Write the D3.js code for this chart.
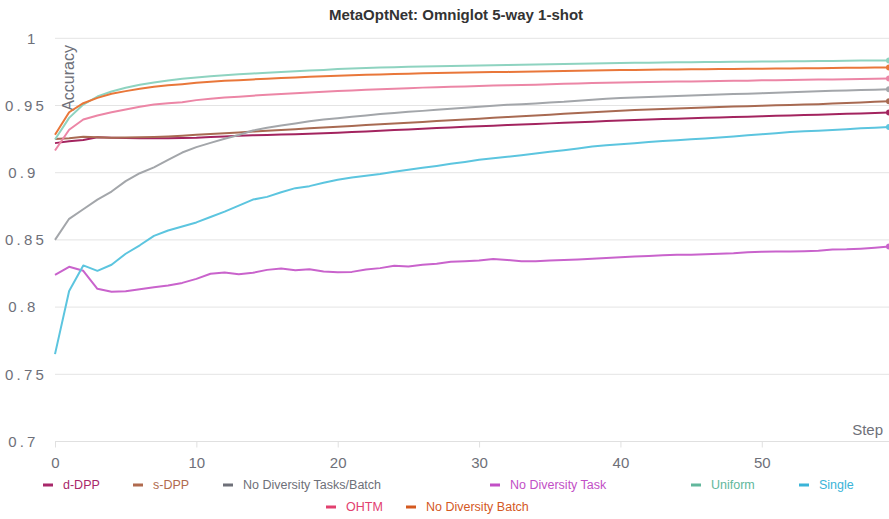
<!DOCTYPE html>
<html>
<head>
<meta charset="utf-8">
<script src="https://cdn.jsdelivr.net/npm/d3@7"></script>
<style>
  html, body { margin: 0; padding: 0; background: #fff; }
  svg { display: block; font-family: "Liberation Sans", Arial, sans-serif; }
</style>
</head>
<body>
<svg id="chart" width="889" height="519"></svg>
<script>
// ---------- data ----------
const title = "MetaOptNet: Omniglot 5-way 1-shot";
const yTicks = [0.7, 0.75, 0.8, 0.85, 0.9, 0.95, 1];
const yTickLabels = ["0.7", "0.75", "0.8", "0.85", "0.9", "0.95", "1"];
const xTicks = [0, 10, 20, 30, 40, 50];
const xTickLabels = ["0", "10", "20", "30", "40", "50"];
const seriesNames = ["d-DPP", "s-DPP", "No Diversity Tasks/Batch", "No Diversity Task", "Uniform", "Single", "OHTM", "No Diversity Batch"];

const dDPP = [0.9220,0.9234,0.9244,0.9264,0.9260,0.9258,0.9256,0.9256,0.9257,0.9258,
  0.9260,0.9265,0.9270,0.9274,0.9278,0.9281,0.9284,0.9287,0.9290,0.9293,
  0.9297,0.9302,0.9307,0.9312,0.9317,0.9322,0.9327,0.9332,0.9337,0.9341,
  0.9346,0.9350,0.9355,0.9359,0.9363,0.9367,0.9371,0.9375,0.9380,0.9384,
  0.9388,0.9392,0.9396,0.9399,0.9402,0.9405,0.9408,0.9411,0.9414,0.9417,
  0.9420,0.9423,0.9426,0.9429,0.9432,0.9435,0.9438,0.9441,0.9444,0.9448];
const sDPP = [0.9250,0.9257,0.9267,0.9264,0.9260,0.9262,0.9264,0.9266,0.9270,0.9275,
  0.9282,0.9288,0.9293,0.9300,0.9306,0.9312,0.9318,0.9324,0.9330,0.9336,
  0.9342,0.9348,0.9354,0.9360,0.9366,0.9372,0.9378,0.9384,0.9390,0.9396,
  0.9402,0.9408,0.9414,0.9420,0.9426,0.9432,0.9438,0.9444,0.9450,0.9456,
  0.9461,0.9466,0.9470,0.9474,0.9478,0.9482,0.9486,0.9489,0.9492,0.9495,
  0.9498,0.9501,0.9504,0.9507,0.9510,0.9514,0.9518,0.9522,0.9527,0.9532];
const noDivTasksBatch = [0.8500,0.8657,0.8728,0.8800,0.8860,0.8937,0.8996,0.9040,0.9096,0.9150,
  0.9190,0.9222,0.9252,0.9280,0.9314,0.9334,0.9351,0.9366,0.9383,0.9396,
  0.9406,0.9416,0.9426,0.9436,0.9445,0.9453,0.9460,0.9468,0.9475,0.9483,
  0.9490,0.9498,0.9505,0.9510,0.9515,0.9522,0.9527,0.9535,0.9542,0.9550,
  0.9555,0.9560,0.9564,0.9567,0.9571,0.9574,0.9578,0.9581,0.9585,0.9588,
  0.9592,0.9595,0.9599,0.9602,0.9606,0.9609,0.9612,0.9615,0.9617,0.9620];
const noDivTask = [0.8240,0.8300,0.8270,0.8136,0.8114,0.8118,0.8133,0.8148,0.8160,0.8180,
  0.8210,0.8248,0.8257,0.8245,0.8255,0.8277,0.8287,0.8275,0.8282,0.8265,
  0.8260,0.8262,0.8280,0.8290,0.8307,0.8302,0.8315,0.8322,0.8337,0.8342,
  0.8347,0.8357,0.8350,0.8342,0.8342,0.8347,0.8350,0.8354,0.8360,0.8366,
  0.8371,0.8376,0.8380,0.8385,0.8390,0.8390,0.8393,0.8397,0.8400,0.8408,
  0.8412,0.8413,0.8413,0.8416,0.8420,0.8428,0.8430,0.8435,0.8442,0.8450];
const uniform = [0.9247,0.9408,0.9507,0.9567,0.9604,0.9632,0.9654,0.9671,0.9686,0.9699,
  0.9708,0.9718,0.9725,0.9732,0.9738,0.9744,0.9750,0.9755,0.9760,0.9765,
  0.9772,0.9776,0.9779,0.9782,0.9785,0.9788,0.9790,0.9792,0.9794,0.9796,
  0.9798,0.9800,0.9802,0.9803,0.9805,0.9807,0.9809,0.9811,0.9813,0.9815,
  0.9816,0.9818,0.9819,0.9820,0.9821,0.9822,0.9823,0.9824,0.9825,0.9826,
  0.9827,0.9828,0.9829,0.9830,0.9831,0.9832,0.9833,0.9834,0.9834,0.9835];
const single = [0.7650,0.8120,0.8310,0.8270,0.8315,0.8397,0.8460,0.8530,0.8570,0.8600,
  0.8630,0.8670,0.8710,0.8755,0.8800,0.8820,0.8855,0.8885,0.8900,0.8925,
  0.8947,0.8964,0.8977,0.8990,0.9007,0.9022,0.9036,0.9050,0.9066,0.9080,
  0.9096,0.9108,0.9118,0.9130,0.9143,0.9155,0.9167,0.9180,0.9195,0.9205,
  0.9212,0.9220,0.9228,0.9236,0.9242,0.9248,0.9255,0.9262,0.9270,0.9278,
  0.9286,0.9294,0.9302,0.9308,0.9313,0.9318,0.9324,0.9330,0.9335,0.9340];
const ohtm = [0.9165,0.9320,0.9396,0.9426,0.9450,0.9470,0.9490,0.9507,0.9517,0.9525,
  0.9540,0.9550,0.9560,0.9566,0.9573,0.9580,0.9586,0.9592,0.9597,0.9602,
  0.9607,0.9612,0.9617,0.9621,0.9625,0.9629,0.9633,0.9636,0.9639,0.9642,
  0.9645,0.9648,0.9650,0.9653,0.9655,0.9658,0.9661,0.9664,0.9667,0.9670,
  0.9672,0.9673,0.9675,0.9676,0.9678,0.9679,0.9681,0.9682,0.9684,0.9685,
  0.9687,0.9688,0.9690,0.9691,0.9693,0.9694,0.9696,0.9697,0.9699,0.9700];
const noDivBatch = [0.9282,0.9450,0.9517,0.9557,0.9587,0.9607,0.9624,0.9639,0.9651,0.9659,
  0.9669,0.9676,0.9684,0.9688,0.9694,0.9699,0.9704,0.9709,0.9713,0.9717,
  0.9721,0.9725,0.9728,0.9731,0.9734,0.9737,0.9740,0.9742,0.9744,0.9746,
  0.9748,0.9749,0.9750,0.9752,0.9753,0.9755,0.9756,0.9758,0.9760,0.9762,
  0.9764,0.9765,0.9766,0.9767,0.9768,0.9769,0.9770,0.9771,0.9772,0.9773,
  0.9774,0.9775,0.9776,0.9777,0.9778,0.9779,0.9780,0.9781,0.9782,0.9783];

const seriesValues = [dDPP, sDPP, noDivTasksBatch, noDivTask, uniform, single, ohtm, noDivBatch];

// ---------- styles / layout ----------
const textColors = ["#a8286a", "#b06a4e", "#6e7079", "#c24fc6", "#62b79c", "#3ab4d8", "#e2406f", "#d4591f"];
const lineColors = ["#a3245f", "#a86a52", "#a3a6aa", "#c963cc", "#8ed3c0", "#5cc5df", "#ec86a6", "#e9773a"];
const legendLayout = [[43,485],[133,485],[223,485],[490,485],[691,485],[799,485],[326,507],[406,507]];

const W = 889, H = 519;
const margin = {left: 55, right: 0, top: 38.3, bottom: 441.5};
const svg = d3.select("#chart");

const x = d3.scaleLinear().domain([0, 59]).range([55, 889]);
const y = d3.scaleLinear().domain([0.7, 1]).range([441.5, 38.3]);

// title
svg.append("text")
  .attr("x", 456).attr("y", 20)
  .attr("text-anchor", "middle")
  .attr("font-size", 15).attr("font-weight", "bold")
  .attr("fill", "#333")
  .text(title);

// gridlines
svg.append("g").selectAll("line")
  .data(yTicks).join("line")
  .attr("x1", 55).attr("x2", 889)
  .attr("y1", d => y(d)).attr("y2", d => y(d))
  .attr("stroke", "#e4e4e4").attr("stroke-width", 1);

// y axis labels
const yAxis = svg.append("g").attr("transform", "translate(47,0)")
  .call(d3.axisLeft(y).tickValues(yTicks).tickFormat((d, i) => yTickLabels[i]).tickSize(0).tickPadding(0));
yAxis.select(".domain").remove();
yAxis.selectAll("text")
  .attr("font-size", 15)
  .attr("font-family", "Liberation Sans, Arial, sans-serif")
  .attr("fill", "#6e7079")
  .attr("letter-spacing", "3.2px")
  .attr("dx", (d, i) => yTickLabels[i].length < 4 ? -8.4 : 0);

// x axis
const xAxis = svg.append("g").attr("transform", "translate(0,441.5)")
  .call(d3.axisBottom(x).tickValues(xTicks).tickFormat((d, i) => xTickLabels[i]).tickSize(6).tickPadding(10));
xAxis.select(".domain").attr("stroke", "#e0e0e0").attr("d", "M55,0H889");
xAxis.selectAll(".tick line").attr("stroke", "#e0e0e0");
xAxis.selectAll("text")
  .attr("font-size", 15)
  .attr("font-family", "Liberation Sans, Arial, sans-serif")
  .attr("fill", "#6e7079");

// axis names
svg.append("text")
  .attr("transform", "translate(73.5,45) rotate(-90)")
  .attr("text-anchor", "end")
  .attr("font-size", 16).attr("fill", "#6e7079")
  .text("Accuracy");
svg.append("text")
  .attr("x", 883).attr("y", 435)
  .attr("text-anchor", "end")
  .attr("font-size", 15).attr("fill", "#6e7079")
  .text("Step");

// lines
const line = d3.line().x((d, i) => x(i)).y(d => y(d));
const lines = svg.append("g");
seriesValues.forEach((vals, k) => {
  lines.append("path")
    .datum(vals)
    .attr("d", line)
    .attr("fill", "none")
    .attr("stroke", lineColors[k])
    .attr("stroke-width", 2)
    .attr("stroke-linejoin", "round");
});
seriesValues.forEach((vals, k) => {
  lines.append("circle")
    .attr("cx", x(vals.length - 1)).attr("cy", y(vals[vals.length - 1]))
    .attr("r", 3)
    .attr("fill", lineColors[k]);
});

// legend
const lg = svg.append("g");
seriesNames.forEach((name, k) => {
  const [lx, ly] = legendLayout[k];
  lg.append("rect")
    .attr("x", lx).attr("y", ly - 1.5)
    .attr("width", 10).attr("height", 3)
    .attr("fill", textColors[k]);
  lg.append("text")
    .attr("x", lx + 20).attr("y", ly)
    .attr("dy", "0.35em")
    .attr("font-size", 12.5)
    .attr("fill", textColors[k])
    .text(name);
});
</script>
</body>
</html>
